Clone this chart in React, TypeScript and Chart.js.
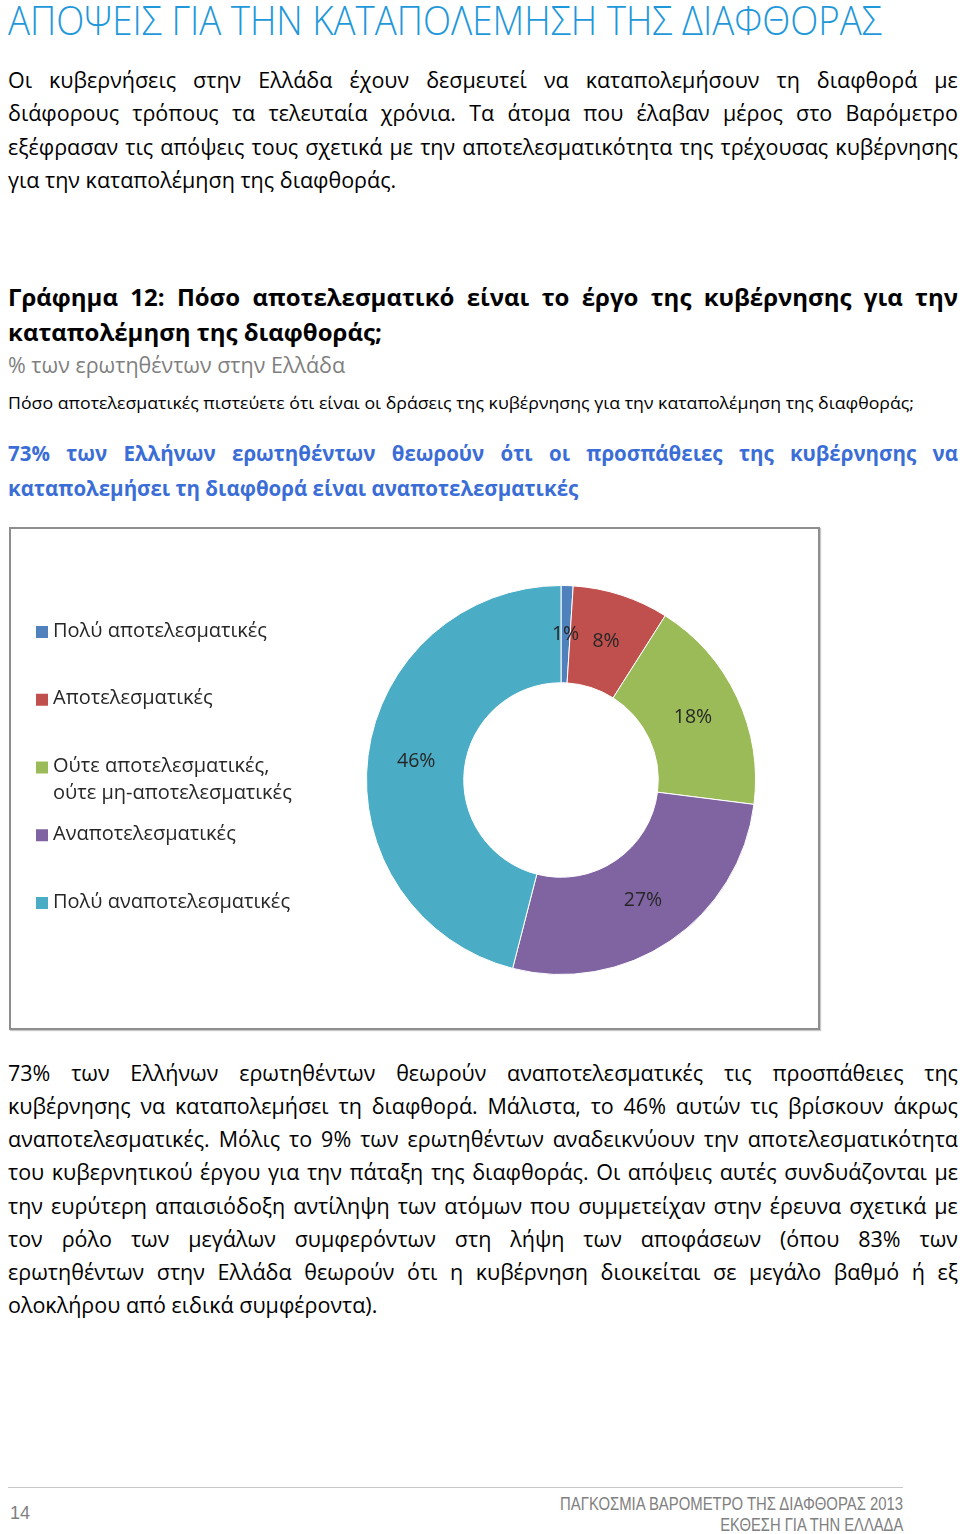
import React, { useEffect, useLayoutEffect, useRef } from "react";
import { Chart, registerables } from "chart.js";

Chart.register(...registerables);

// ---------- data ----------
const categories = [
  "Πολύ αποτελεσματικές",
  "Αποτελεσματικές",
  "Ούτε αποτελεσματικές, ούτε μη-αποτελεσματικές",
  "Αναποτελεσματικές",
  "Πολύ αναποτελεσματικές",
];
const legendLines = [
  ["Πολύ αποτελεσματικές"],
  ["Αποτελεσματικές"],
  ["Ούτε αποτελεσματικές,", "ούτε μη-αποτελεσματικές"],
  ["Αναποτελεσματικές"],
  ["Πολύ αναποτελεσματικές"],
];
const values = [1, 8, 18, 27, 46];
const colors = ["#4F81BD", "#C0504D", "#9BBB59", "#8064A2", "#4BACC6"];

const titleText = "ΑΠΟΨΕΙΣ ΓΙΑ ΤΗΝ ΚΑΤΑΠΟΛΕΜΗΣΗ ΤΗΣ ΔΙΑΦΘΟΡΑΣ";
const para1 = [
  "Οι κυβερνήσεις στην Ελλάδα έχουν δεσμευτεί να καταπολεμήσουν τη διαφθορά με",
  "διάφορους τρόπους τα τελευταία χρόνια. Τα άτομα που έλαβαν μέρος στο Βαρόμετρο",
  "εξέφρασαν τις απόψεις τους σχετικά με την αποτελεσματικότητα της τρέχουσας κυβέρνησης",
  "για την καταπολέμηση της διαφθοράς.",
];
const chartHeading = [
  "Γράφημα 12: Πόσο αποτελεσματικό είναι το έργο της κυβέρνησης για την",
  "καταπολέμηση της διαφθοράς;",
];
const chartSub = "% των ερωτηθέντων στην Ελλάδα";
const question =
  "Πόσο αποτελεσματικές πιστεύετε ότι είναι οι δράσεις της κυβέρνησης για την καταπολέμηση της διαφθοράς;";
const highlight = [
  "73% των Ελλήνων ερωτηθέντων θεωρούν ότι οι προσπάθειες της κυβέρνησης να",
  "καταπολεμήσει τη διαφθορά είναι αναποτελεσματικές",
];
const para2 = [
  "73% των Ελλήνων ερωτηθέντων θεωρούν αναποτελεσματικές τις προσπάθειες της",
  "κυβέρνησης να καταπολεμήσει τη διαφθορά. Μάλιστα, το 46% αυτών τις βρίσκουν άκρως",
  "αναποτελεσματικές. Μόλις το 9% των ερωτηθέντων αναδεικνύουν την αποτελεσματικότητα",
  "του κυβερνητικού έργου για την πάταξη της διαφθοράς. Οι απόψεις αυτές συνδυάζονται με",
  "την ευρύτερη απαισιόδοξη αντίληψη των ατόμων που συμμετείχαν στην έρευνα σχετικά με",
  "τον ρόλο των μεγάλων συμφερόντων στη λήψη των αποφάσεων (όπου 83% των",
  "ερωτηθέντων στην Ελλάδα θεωρούν ότι η κυβέρνηση διοικείται σε μεγάλο βαθμό ή εξ",
  "ολοκλήρου από ειδικά συμφέροντα).",
];
const pageNumber = "14";
const footerLines = ["ΠΑΓΚΟΣΜΙΑ ΒΑΡΟΜΕΤΡΟ ΤΗΣ ΔΙΑΦΘΟΡΑΣ 2013", "ΕΚΘΕΣΗ ΓΙΑ ΤΗΝ ΕΛΛΑΔΑ"];

// ---------- styles ----------
const FONT = "'Open Sans', 'Noto Sans', sans-serif";
const NARROW = "'Liberation Sans Narrow', 'Liberation Sans', Arial, sans-serif";

type LineProps = {
  y: number;
  text: string;
  size: number;
  weight?: number;
  color?: string;
  justify?: boolean;
  left?: number;
  width?: number;
  lh?: number;
  family?: string;
};

function Line({
  y,
  text,
  size,
  weight = 400,
  color = "#000",
  justify = false,
  left = 8,
  width = 950,
  lh = 30,
  family = FONT,
}: LineProps) {
  const style: React.CSSProperties = {
    position: "absolute",
    left,
    top: y - lh / 2,
    width,
    height: lh,
    lineHeight: lh + "px",
    fontSize: size,
    fontWeight: weight,
    color,
    fontFamily: family,
    whiteSpace: "nowrap",
  };
  if (justify) {
    const words = text.split(" ");
    return (
      <div style={{ ...style, display: "flex", justifyContent: "space-between" }}>
        {words.map((w, i) => (
          <span key={i}>{w}</span>
        ))}
      </div>
    );
  }
  return <div style={style}>{text}</div>;
}

type FitProps = {
  y: number;
  text: string;
  size: number;
  target: number;
  x: number;
  align?: "left" | "right";
  weight?: number;
  color?: string;
  family?: string;
  lh?: number;
};

function FitLine({
  y,
  text,
  size,
  target,
  x,
  align = "left",
  weight = 400,
  color = "#000",
  family = FONT,
  lh = 30,
}: FitProps) {
  const ref = useRef<HTMLSpanElement>(null);
  useLayoutEffect(() => {
    const el = ref.current;
    if (!el) return;
    el.style.transform = "none";
    const w = el.getBoundingClientRect().width;
    if (w > 0) el.style.transform = `scaleX(${target / w})`;
  }, [text, target]);
  const outer: React.CSSProperties = {
    position: "absolute",
    top: y - lh / 2,
    height: lh,
    lineHeight: lh + "px",
    whiteSpace: "nowrap",
  };
  if (align === "left") outer.left = x;
  else outer.right = 960 - x;
  return (
    <div style={outer}>
      <span
        ref={ref}
        style={{
          display: "inline-block",
          fontSize: size,
          fontWeight: weight,
          color,
          fontFamily: family,
          transformOrigin: align === "left" ? "left center" : "right center",
        }}
      >
        {text}
      </span>
    </div>
  );
}

// ---------- chart ----------
const CANVAS_W = 807;
const CANVAS_H = 499;
const CENTER_X = 550;
const CENTER_Y = 251;
const RADIUS = 195;
const LEGEND_X = 25;
const LEGEND_TOP = 102;
const LEGEND_STEP = 67.75;
const LEGEND_LINE = 27;

function DonutChart() {
  const ref = useRef<HTMLCanvasElement>(null);
  useEffect(() => {
    if (!ref.current) return;
    const sideLegend = {
      id: "sideLegend",
      afterDraw(chart: any) {
        const ctx = chart.ctx as CanvasRenderingContext2D;
        ctx.save();
        ctx.textBaseline = "middle";
        ctx.textAlign = "left";
        ctx.font = `20px ${FONT}`;
        legendLines.forEach((lines, i) => {
          const y = LEGEND_TOP + i * LEGEND_STEP;
          ctx.fillStyle = colors[i];
          ctx.fillRect(LEGEND_X, y - 5, 12, 12);
          ctx.fillStyle = "#262626";
          lines.forEach((ln, j) => ctx.fillText(ln, LEGEND_X + 17, y + j * LEGEND_LINE));
        });
        ctx.restore();
      },
    };
    const sliceLabels = {
      id: "sliceLabels",
      afterDatasetsDraw(chart: any) {
        const ctx = chart.ctx as CanvasRenderingContext2D;
        const meta = chart.getDatasetMeta(0);
        ctx.save();
        ctx.font = `19.5px ${FONT}`;
        ctx.fillStyle = "#262626";
        ctx.textAlign = "center";
        ctx.textBaseline = "middle";
        meta.data.forEach((arc: any, i: number) => {
          const p = arc.tooltipPosition(false);
          ctx.fillText(values[i] + "%", p.x, p.y);
        });
        ctx.restore();
      },
    };
    const chart = new Chart(ref.current, {
      type: "doughnut",
      data: {
        labels: categories,
        datasets: [
          {
            data: values,
            backgroundColor: colors,
            borderColor: "#ffffff",
            borderWidth: 1,
          },
        ],
      },
      options: {
        responsive: false,
        animation: false,
        cutout: "50%",
        layout: {
          padding: {
            left: CENTER_X - RADIUS,
            right: CANVAS_W - CENTER_X - RADIUS,
            top: CENTER_Y - RADIUS,
            bottom: CANVAS_H - CENTER_Y - RADIUS,
          },
        },
        plugins: {
          legend: { display: false },
          tooltip: { enabled: false },
        },
      },
      plugins: [sideLegend, sliceLabels],
    });
    return () => chart.destroy();
  }, []);
  return (
    <canvas
      ref={ref}
      width={CANVAS_W}
      height={CANVAS_H}
      style={{ display: "block", width: CANVAS_W, height: CANVAS_H }}
    />
  );
}

// ---------- page ----------
export default function App() {
  const p1Y = [80, 113, 147, 180];
  const p2Y = [1073, 1106, 1139, 1172, 1206, 1239, 1272, 1305];
  return (
    <div
      style={{
        position: "absolute",
        left: 0,
        top: 0,
        width: 960,
        height: 1534,
        background: "#fff",
        overflow: "hidden",
        fontFamily: FONT,
      }}
    >
      <FitLine
        y={20}
        x={8}
        text={titleText}
        size={40}
        weight={300}
        target={874}
        color="#1E98DA"
        lh={46}
      />
      {para1.map((t, i) => (
        <Line key={"p1" + i} y={p1Y[i]} text={t} size={21.5} justify={i < para1.length - 1} />
      ))}
      {chartHeading.map((t, i) => (
        <Line
          key={"h" + i}
          y={[297, 332][i]}
          text={t}
          size={24}
          weight={700}
          justify={i === 0}
          lh={34}
        />
      ))}
      <Line y={365} text={chartSub} size={21.5} color="#7F7F7F" />
      <FitLine y={403} x={8} text={question} size={16.5} target={906} />
      {highlight.map((t, i) => (
        <Line
          key={"hl" + i}
          y={[453, 488][i]}
          text={t}
          size={20.5}
          weight={700}
          color="#3B6DD6"
          justify={i === 0}
        />
      ))}
      <div
        style={{
          position: "absolute",
          left: 9,
          top: 527,
          width: CANVAS_W,
          height: CANVAS_H,
          border: "2px solid #8E8E8E",
          boxShadow: "1px 1px 1px #c8c8c8",
          background: "#fff",
        }}
      >
        <DonutChart />
      </div>
      {para2.map((t, i) => (
        <Line key={"p2" + i} y={p2Y[i]} text={t} size={21.5} justify={i < para2.length - 1} />
      ))}
      <div
        style={{
          position: "absolute",
          left: 8,
          top: 1487,
          width: 895,
          height: 1,
          background: "#C8C8C8",
        }}
      />
      <Line y={1513} text={pageNumber} size={18} left={10} width={60} color="#7F7F7F" family={NARROW} />
      <FitLine
        y={1504}
        x={903}
        align="right"
        text={footerLines[0]}
        size={18}
        target={343}
        color="#808080"
        family={NARROW}
        lh={22}
      />
      <FitLine
        y={1525}
        x={903}
        align="right"
        text={footerLines[1]}
        size={18}
        target={183}
        color="#808080"
        family={NARROW}
        lh={22}
      />
    </div>
  );
}
